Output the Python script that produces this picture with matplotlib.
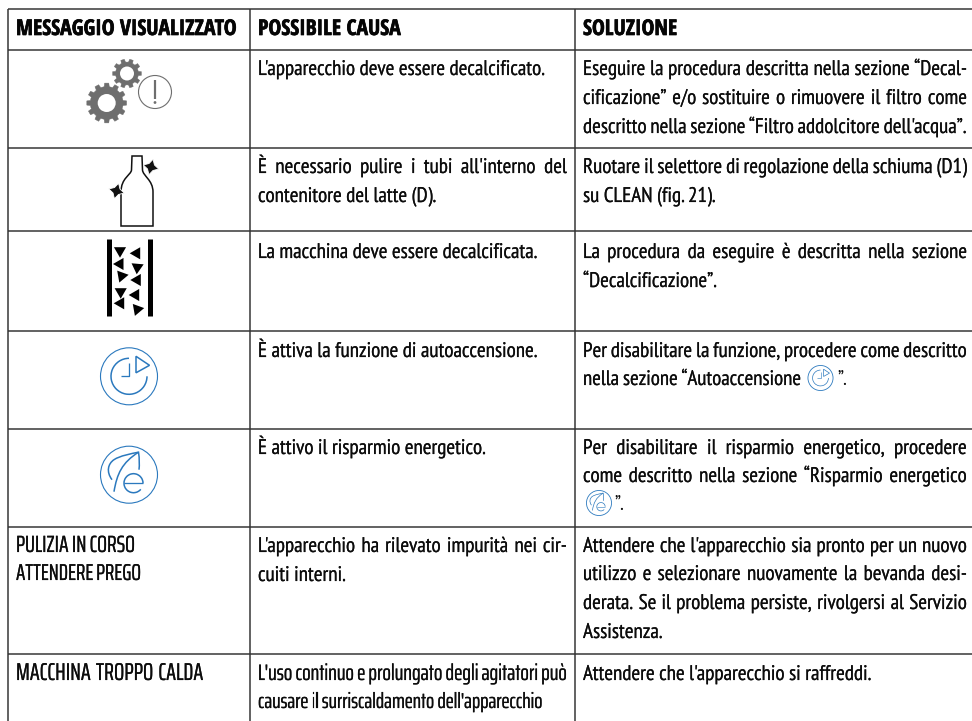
import numpy as np
import matplotlib
matplotlib.use('Agg')
import matplotlib.pyplot as plt
import matplotlib.patheffects as pe
from matplotlib.patches import Circle, Polygon, PathPatch, Arc
from matplotlib.path import Path

FONT = ['PT Sans Narrow', 'Liberation Sans Narrow', 'DejaVu Sans']
TIGHT_FONT = ['Saira ExtraCondensed', 'PT Sans Narrow', 'DejaVu Sans']
HEAD_FONT = ['Open Sans Condensed', 'PT Sans Narrow', 'DejaVu Sans']
SIZE = 15.2
TEXT = '#0c0c0c'
BLUE = '#2b79be'
GREY = '#6e6e6e'
THICKER = [pe.withStroke(linewidth=0.12, foreground=TEXT)]
HEAD_THICKER = [pe.withStroke(linewidth=0.5, foreground='#050505')]

col_lines = [8, 250, 575]
row_lines = [9, 50, 148, 231, 331, 429, 527, 654]

headers = ['MESSAGGIO VISUALIZZATO', 'POSSIBILE CAUSA', 'SOLUZIONE']
header_x = [16, 258, 583]

# (text, baseline, right edge or None when the line is not justified)
col1_lines = [
    ('PULIZIA IN CORSO', 552, 135),
    ('ATTENDERE PREGO', 580, 141),
    ('MACCHINA TROPPO CALDA', 680, 203),
]
col2_lines = [
    ("L'apparecchio deve essere decalcificato.", 75, None),
    ("È necessario pulire i tubi all'interno del", 173, 567),
    ('contenitore del latte (D).', 202, None),
    ('La macchina deve essere decalcificata.', 258, None),
    ('È attiva la funzione di autoaccensione.', 357, None),
    ('È attivo il risparmio energetico.', 454, None),
    ("L'apparecchio ha rilevato impurità nei cir-", 552, 567),
    ('cuiti interni.', 581, None),
]
col2_tight = [
    ("L'uso continuo e prolungato degli agitatori può", 680, 567),
    ("causare il surriscaldamento dell'apparecchio", 708, 543),
]
col3_lines = [
    ('Eseguire la procedura descritta nella sezione “Decal-', 75, 967),
    ('cificazione” e/o sostituire o rimuovere il filtro come', 104, 967),
    ("descritto nella sezione “Filtro addolcitore dell'acqua”.", 133, 967),
    ('Ruotare il selettore di regolazione della schiuma (D1)', 173, 967),
    ('su CLEAN (fig. 21).', 202, None),
    ('La procedura da eseguire è descritta nella sezione', 258, 967),
    ('“Decalcificazione”.', 287, None),
    ('Per disabilitare la funzione, procedere come descritto', 357, 967),
    ('nella sezione “Autoaccensione', 385, 801),
    ('Per disabilitare il risparmio energetico, procedere', 454, 967),
    ('come descritto nella sezione “Risparmio energetico', 482, 967),
    ("Attendere che l'apparecchio sia pronto per un nuovo", 552, 967),
    ('utilizzo e selezionare nuovamente la bevanda desi-', 580, 967),
    ('derata. Se il problema persiste, rivolgersi al Servizio', 609, 967),
    ('Assistenza.', 638, None),
    ("Attendere che l'apparecchio si raffreddi.", 680, None),
]
trailing = [('”.', 837, 385), ('”.', 614, 510)]

fig = plt.figure(figsize=(9.72, 7.21), dpi=100)
ax = fig.add_axes([0, 0, 1, 1])
ax.set_xlim(0, 972)
ax.set_ylim(721, 0)
ax.axis('off')
renderer = fig.canvas.get_renderer()


def put_line(x, y, s, right=None, family=FONT, start=SIZE):
    kw = dict(family=family, color=TEXT, va='baseline', ha='left', path_effects=THICKER)
    if right is None:
        ax.text(x, y, s, fontsize=start, **kw)
        return
    words = s.split(' ')
    size = start
    while True:
        arts = [ax.text(x, y, w, fontsize=size, **kw) for w in words]
        widths = [a.get_window_extent(renderer).width for a in arts]
        gap = (right - x - sum(widths)) / (len(words) - 1)
        if gap >= 3 or size < 11:
            break
        for a in arts:
            a.remove()
        size -= 0.1
    pos = x
    for a, w in zip(arts, widths):
        a.set_x(pos)
        pos += w + gap


def line_px(xs, ys, w, color='black', **kw):
    ax.plot(xs, ys, color=color, lw=w * 0.72, solid_capstyle='butt', **kw)


def gear(cx, cy, r_out, r_root, r_hole, teeth):
    ang = []
    rad = []
    step = 2 * np.pi / teeth
    for i in range(teeth):
        a = i * step
        ang += [a - step * 0.2, a + step * 0.2, a + step * 0.3, a + step * 0.7]
        rad += [r_out, r_out, r_root, r_root]
    ang = np.array(ang)
    rad = np.array(rad)
    ax.add_patch(Polygon(np.c_[cx + rad * np.cos(ang), cy + rad * np.sin(ang)],
                         closed=True, fc=GREY, ec=GREY, lw=0.3))
    ax.add_patch(Circle((cx, cy), r_hole, fc='white', ec='none'))


def star(cx, cy, r, rot):
    ang = np.deg2rad(rot) + np.arange(8) * np.pi / 4
    rad = np.where(np.arange(8) % 2 == 0, r, r * 0.5)
    pts = np.c_[cx + rad * np.cos(ang), cy + rad * np.sin(ang)]
    ax.add_patch(Polygon(pts, closed=True, fc='#111111', ec='white', lw=0.6, zorder=4))


def triangle(cx, cy, r, rot):
    ang = np.deg2rad(rot) + np.arange(3) * 2 * np.pi / 3
    pts = np.c_[cx + r * np.cos(ang), cy + r * np.sin(ang)]
    ax.add_patch(Polygon(pts, closed=True, fc='black', ec='none'))


def clock_icon(cx, cy, s):
    # s = 1 is the big icon of the first column
    ax.add_patch(Circle((cx, cy), 28.5 * s, fc='none', ec=BLUE, lw=max(0.8 * s, 0.6)))
    lw = max(1.1 * s, 0.5)
    ax.add_patch(Arc((cx, cy), 36 * s, 36 * s, theta1=0, theta2=270, ec=BLUE, lw=lw))
    line_px([cx, cx, cx - 8.5 * s], [cy - 13 * s, cy, cy], 1.3 * s, BLUE)
    ax.add_patch(Polygon([(cx + 7 * s, cy - 20 * s), (cx + 20.5 * s, cy - 11 * s), (cx + 7 * s, cy - 3.5 * s)],
                         closed=True, fc='none', ec=BLUE, lw=lw))


def leaf_icon(cx, cy, s):
    ax.add_patch(Circle((cx, cy), 28.5 * s, fc='none', ec=BLUE, lw=max(0.8 * s, 0.6)))
    lw = max(1.1 * s, 0.5)

    def p(x, y):
        return (cx + x * s, cy + y * s)
    # leaf outline, from the lower left round to the tip and down the right side
    verts = [p(-17, 5), p(-23, -3), p(-21, -11), p(-15, -15), p(-9, -19), p(2, -21), p(9.5, -22.5),
             p(10.5, -16), p(10.5, -10), p(10, -5)]
    codes = [Path.MOVETO] + [Path.CURVE4] * 9
    ax.add_patch(PathPatch(Path(verts, codes), fc='none', ec=BLUE, lw=lw))
    # stem
    verts = [p(-15, 17), p(-12, -1), p(-7, -12), p(9.5, -22.5)]
    ax.add_patch(PathPatch(Path(verts, [Path.MOVETO] + [Path.CURVE4] * 3), fc='none', ec=BLUE, lw=lw))
    # the e
    ex, ey = p(4.5, 8.5)
    ax.add_patch(Arc((ex, ey), 19 * s, 19 * s, theta1=40, theta2=360, ec=BLUE, lw=lw))
    line_px([ex - 9.5 * s, ex + 9.5 * s], [ey, ey], 1.3 * s, BLUE)


# grid
for y in row_lines:
    line_px([col_lines[0] - 0.5, 972], [y, y], 1.5, '#333333')
for x in col_lines:
    line_px([x, x], [row_lines[0], 721], 1.5, '#333333')

# text
for h, x in zip(headers, header_x):
    ax.text(x, 35, h, family=HEAD_FONT, fontsize=15.6, fontweight='bold', color='#050505', va='baseline',
            path_effects=HEAD_THICKER)
for s, y, right in col1_lines:
    put_line(16, y, s, right, family=TIGHT_FONT, start=17.5)
for x, rows in zip([258, 583], [col2_lines, col3_lines]):
    for s, y, right in rows:
        put_line(x, y, s, right)
for s, y, right in col2_tight:
    put_line(258, y, s, right, family=TIGHT_FONT, start=16.5)
for s, x, y in trailing:
    ax.text(x, y, s, family=FONT, fontsize=SIZE, color=TEXT, va='baseline')

# gears and warning
gear(106.7, 103, 20, 16.5, 9, 12)
gear(127, 73.5, 14.5, 11.5, 7, 10)
ax.add_patch(Circle((155, 92), 16.5, fc='none', ec=GREY, lw=0.8))
line_px([155, 155], [80, 98.5], 2.2, GREY)
ax.add_patch(Circle((155, 102.5), 1.4, fc=GREY, ec='none'))

# bottle
b = Path([(132, 156), (131.5, 170), (131, 175), (121, 178), (121, 192), (121, 226), (153, 226), (153, 192),
          (153, 180), (143, 176), (142.5, 170), (142, 156), (132, 156)],
         [Path.MOVETO, Path.LINETO, Path.CURVE4, Path.CURVE4, Path.CURVE4, Path.LINETO, Path.LINETO, Path.LINETO,
          Path.CURVE4, Path.CURVE4, Path.CURVE4, Path.LINETO, Path.CLOSEPOLY])
ax.add_patch(PathPatch(b, fc='none', ec='#111111', lw=1.1))
star(151, 167, 8, 15)
star(116.5, 191, 8, 15)

# filter icon
line_px([108.5, 108.5], [239, 316], 5)
line_px([149.5, 149.5], [239, 316], 5)
tri = [(120, 250.7, 90), (136.7, 253.3, 180), (120, 264, 180), (137.3, 267.3, 95), (121.7, 276, 110),
       (137.3, 280, 180), (120.7, 291.7, 90), (135.7, 295, 180), (120.7, 303.3, 180), (137.3, 309.3, 110)]
for cx, cy, rot in tri:
    triangle(cx, cy, 7, rot)

clock_icon(129, 376.3, 1)
leaf_icon(129, 474.7, 1)
clock_icon(820.5, 378, 0.44)
leaf_icon(599, 503, 0.44)

fig.savefig('out.png', dpi=100)
